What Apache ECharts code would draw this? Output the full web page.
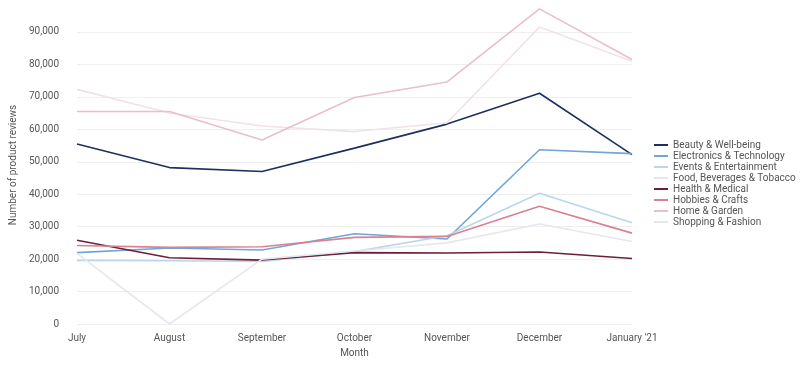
<!DOCTYPE html>
<html><head><meta charset="utf-8">
<script src="https://cdn.jsdelivr.net/npm/echarts@6/dist/echarts.min.js"></script>
<style>html,body{margin:0;padding:0;background:#fff}#c{width:800px;height:373px}</style>
</head><body><div id="c"></div>
<script>
const months = ['July','August','September','October','November','December',"January '21"];
const seriesNames = ['Beauty & Well-being','Electronics & Technology','Events & Entertainment','Food, Beverages & Tobacco','Health & Medical','Hobbies & Crafts','Home & Garden','Shopping & Fashion'];
const beauty = [55500, 48200, 47000, 54200, 61600, 71100, 52200];
const electronics = [22000, 23400, 22800, 27800, 26200, 53700, 52500];
const events = [19600, 19500, 19300, 22300, 27200, 40300, 31200];
const food = [72300, 65000, 61000, 59300, 62000, 91500, 81000];
const health = [25800, 20400, 19700, 22000, 21900, 22200, 20200];
const hobbies = [24200, 23600, 23800, 26700, 27000, 36300, 28000];
const home = [65500, 65500, 56700, 69800, 74600, 97100, 81500];
const shopping = [21800, 0, 20000, 22500, 25000, 30800, 25400];
const seriesData = [beauty, electronics, events, food, health, hobbies, home, shopping];
const colors = ['#1f2f5e','#6fa6d6','#bcd5ec','#f1e2e7','#6e1f37','#d98191','#e8bfcb','#e4e8ee'];

const chart = echarts.init(document.getElementById('c'));
chart.setOption({
  animation: false,
  textStyle: {fontFamily: 'Roboto'},
  grid: {left: 77, right: 168, top: 6, bottom: 49},
  legend: {
    orient: 'vertical', left: 649, top: 135,
    itemWidth: 14, itemHeight: 2, itemGap: 1,
    icon: 'rect',
    textStyle: {fontSize: 10, color: '#555', fontFamily: 'Roboto'},
    data: seriesNames
  },
  xAxis: {
    type: 'category', data: months, boundaryGap: false,
    name: 'Month', nameLocation: 'middle', nameGap: 24,
    nameTextStyle: {fontSize: 10, color: '#555'},
    axisLine: {show: false}, axisTick: {show: false},
    axisLabel: {fontSize: 10, color: '#555', margin: 9}
  },
  yAxis: {
    type: 'value', min: 0, max: 98000, interval: 10000,
    name: 'Number of product reviews', nameLocation: 'middle', nameGap: 52,
    nameTextStyle: {fontSize: 10, color: '#555'},
    axisLine: {show: false}, axisTick: {show: false},
    axisLabel: {fontSize: 10, color: '#555', margin: 18,
      formatter: v => (v % 10000 === 0 ? v.toLocaleString('en-US') : '')},
    splitLine: {lineStyle: {color: '#efefef', width: 1}, showMaxLine: false}
  },
  series: seriesNames.map((n, i) => ({
    name: n, type: 'line', data: seriesData[i], symbol: 'none',
    lineStyle: {width: 1.6, color: colors[i]}, itemStyle: {color: colors[i]}
  }))
});
</script></body></html>
